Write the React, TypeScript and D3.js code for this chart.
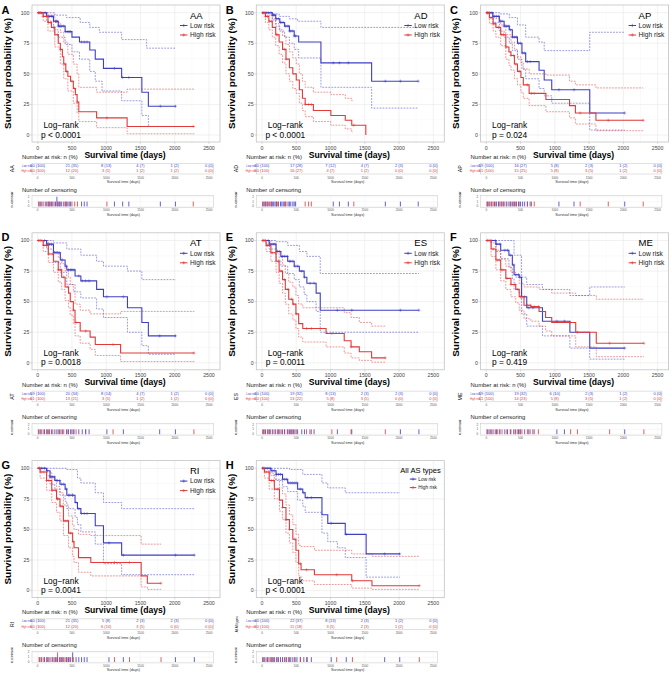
import React from 'react';
import * as d3 from 'd3';

type Pt = [number, number];

const TIME_TICKS = [0, 500, 1000, 1500, 2000, 2500];
const SURV_TICKS = [0, 25, 50, 75, 100];
const CENS_TICKS = [0, 1, 2];
const PANEL_LETTERS = ['A', 'B', 'C', 'D', 'E', 'F', 'G', 'H'];
const GROUP_NAMES = ['AA', 'AD', 'AP', 'AT', 'ES', 'ME', 'RI', 'All AS types'];
const P_TEXTS = ['p < 0.0001', 'p < 0.0001', 'p = 0.024', 'p = 0.0018', 'p = 0.0011', 'p = 0.419', 'p = 0.0041', 'p < 0.0001'];
const STRATA = ['Low risk', 'High risk'];

// ---- AA ----
const AA_low: Pt[] = [[0,100],[130,97],[230,93],[300,89],[400,84.5],[500,80],[610,76],[760,69.5],[840,62],[960,54.5],[1225,47],[1520,35],[1615,23.5],[2015,23.5]];
const AA_lowU: Pt[] = [[0,100],[250,98],[420,96],[620,92],[760,88],[900,84],[1225,78],[1590,71],[2015,71]];
const AA_lowL: Pt[] = [[0,100],[130,93],[230,86],[300,80],[400,74],[500,68],[610,62],[760,52],[840,44],[940,36],[1225,28],[1520,16],[1615,7],[2015,7]];
const AA_high: Pt[] = [[0,100],[80,97],[150,92],[200,88],[250,82],[300,75],[330,70],[360,64],[380,58],[410,52],[440,48],[480,44],[520,38],[550,33],[575,27],[600,19],[860,14],[1305,7],[2286,7]];
const AA_highU: Pt[] = [[0,100],[150,98],[250,92],[330,84],[380,76],[440,66],[520,58],[575,50],[600,39],[860,35],[1305,37.5],[2286,37.5]];
const AA_highL: Pt[] = [[0,100],[80,93],[150,85],[250,72],[330,58],[380,46],[440,36],[520,26],[575,18],[600,11],[860,6],[1305,1],[2286,1]];
const AA_lowC = [20,60,110,150,170,200,220,260,280,280,300,320,350,380,410,440,460,480,640,680,720,1120,1240,1330,1790,2010];
const AA_highC = [15,40,80,130,160,190,240,290,330,400,420,500,540,580,1010,2270];
const AA_riskLow = ['60 (100)','21 (35)','8 (13)','4 (7)','1 (2)','0 (0)'];
const AA_riskHigh = ['60 (100)','12 (20)','3 (5)','1 (2)','1 (2)','0 (0)'];

// ---- AD ----
const AD_low: Pt[] = [[0,100],[150,98],[200,95],[260,92],[330,89],[400,85],[470,81],[535,76],[860,59],[1600,44],[2280,44]];
const AD_lowU: Pt[] = [[0,100],[160,99],[250,97],[400,95],[520,93],[860,88],[2280,88]];
const AD_lowL: Pt[] = [[0,100],[150,94],[200,89],[260,85],[330,80],[400,75],[470,70],[535,63],[860,39],[1600,22],[2280,22]];
const AD_high: Pt[] = [[0,100],[50,97],[100,93],[150,88],[200,82],[250,76],[300,70],[350,62],[400,55],[450,50],[500,45],[545,37],[590,30],[630,25],[750,20],[1005,16],[1215,12],[1310,8],[1515,0]];
const AD_highU: Pt[] = [[0,100],[100,98],[150,95],[200,91],[250,86],[300,81],[350,74],[400,68],[450,63],[500,58],[545,50],[590,44],[630,39],[750,35],[1005,33],[1215,30],[1310,28],[1320,28]];
const AD_highL: Pt[] = [[0,100],[50,92],[100,86],[150,80],[200,73],[250,66],[300,59],[350,50],[400,44],[450,38],[500,34],[545,26],[590,20],[630,15],[750,11],[1005,8],[1215,5],[1310,2],[1320,2]];
const AD_lowC = [10,40,60,90,130,150,170,190,210,240,270,290,310,340,380,400,420,450,470,490,1040,1130,1260,1800,2020,2280];
const AD_highC = [20,50,80,110,140,210,230,330,350,630,680,720,1340];
const AD_riskLow = ['60 (100)','17 (28)','7 (12)','4 (7)','2 (3)','0 (0)'];
const AD_riskHigh = ['60 (100)','16 (27)','4 (7)','1 (2)','0 (0)','0 (0)'];

// ---- AP ----
const AP_low: Pt[] = [[0,100],[95,97],[190,93],[260,89],[335,86],[380,80],[455,75],[520,67],[575,60],[770,53],[845,45],[955,37],[1510,18],[2020,18]];
const AP_lowU: Pt[] = [[0,100],[190,99],[335,96],[455,90],[575,80],[770,76],[845,69],[1510,84],[2020,84]];
const AP_lowL: Pt[] = [[0,100],[95,92],[190,85],[260,80],[335,75],[380,69],[455,62],[520,54],[575,46],[770,38],[845,32],[955,26],[1510,4],[2020,4]];
const AP_high: Pt[] = [[0,100],[45,96],[100,91],[140,88],[210,82],[285,72],[330,68],[360,65],[410,58],[455,52],[505,47],[540,41],[625,34],[870,29],[1215,24],[1300,18],[1600,12],[2290,12]];
const AP_highU: Pt[] = [[0,100],[100,97],[140,95],[210,90],[285,82],[360,76],[410,70],[455,64],[505,59],[540,54],[625,50],[870,49],[1215,44],[1300,41],[1600,38.5],[2290,38.5]];
const AP_highL: Pt[] = [[0,100],[45,91],[100,85],[140,80],[210,73],[285,62],[330,57],[360,53],[410,46],[455,41],[505,35],[540,30],[625,24],[870,19],[1215,14],[1300,9],[1600,3.5],[2290,3.5]];
const AP_lowC = [15,50,80,120,150,180,200,230,260,300,330,350,380,410,440,470,500,530,560,600,640,1060,1280,2020];
const AP_highC = [10,30,70,100,130,180,220,250,290,360,400,430,480,600,660,700,1370,1780,2290];
const AP_riskLow = ['59 (100)','16 (27)','5 (8)','2 (3)','1 (2)','0 (0)'];
const AP_riskHigh = ['61 (100)','15 (25)','5 (8)','3 (5)','1 (2)','0 (0)'];

// ---- AT ----
const AT_low: Pt[] = [[0,100],[130,97],[230,90],[330,84],[400,79],[425,76],[545,71],[630,67],[860,60],[960,54],[1310,45],[1520,33],[1615,22],[2015,22]];
const AT_lowU: Pt[] = [[0,100],[230,98],[425,93],[630,88],[860,83],[960,79],[1310,75],[1520,68],[2015,68]];
const AT_lowL: Pt[] = [[0,100],[130,93],[230,82],[330,74],[425,64],[545,58],[630,53],[860,44],[960,37],[1310,25],[1520,14],[1615,7],[2015,7]];
const AT_high: Pt[] = [[0,100],[80,96],[155,89],[230,83],[300,76],[350,70],[400,62],[450,57],[475,50],[520,43],[545,33],[620,26],[765,21],[840,15],[1210,8],[2286,8]];
const AT_highU: Pt[] = [[0,100],[155,96],[230,91],[300,86],[350,81],[400,75],[450,70],[475,64],[520,58],[545,48],[620,43],[765,40],[1210,42],[2286,42]];
const AT_highL: Pt[] = [[0,100],[80,91],[155,82],[230,74],[300,66],[350,60],[400,51],[450,45],[475,39],[520,32],[545,22],[620,16],[765,11],[840,6],[1210,1],[2286,1]];
const AT_lowC = [20,60,100,140,170,200,250,280,320,360,420,450,480,500,530,600,650,700,750,1010,1250,1780,2010];
const AT_highC = [10,40,90,130,160,220,300,340,380,440,520,560,700,1100,2280];
const AT_riskLow = ['59 (100)','20 (34)','8 (14)','4 (7)','1 (2)','0 (0)'];
const AT_riskHigh = ['61 (100)','13 (21)','3 (5)','1 (2)','1 (2)','0 (0)'];

// ---- ES ----
const ES_low: Pt[] = [[0,100],[105,97],[205,91],[275,87],[375,83],[470,79],[545,75],[615,70],[655,65],[790,57],[850,43],[2290,43]];
const ES_lowU: Pt[] = [[0,100],[205,99],[375,96],[545,91],[655,87],[850,73],[2290,73]];
const ES_lowL: Pt[] = [[0,100],[105,93],[205,84],[275,79],[375,73],[470,68],[545,62],[615,56],[655,50],[790,42],[850,25],[2290,25]];
const ES_high: Pt[] = [[0,100],[60,96],[130,90],[205,83],[250,75],[300,68],[340,60],[390,52],[450,48],[495,40],[535,32],[595,28],[935,24],[1200,18],[1300,13],[1420,9],[1600,4],[1800,4]];
const ES_highU: Pt[] = [[0,100],[130,97],[205,92],[250,86],[300,80],[340,73],[390,66],[450,62],[495,55],[535,48],[595,45],[1200,41],[1300,37],[1420,33],[1600,30],[1800,30]];
const ES_highL: Pt[] = [[0,100],[60,91],[130,83],[205,74],[250,65],[300,57],[340,48],[390,40],[450,35],[495,28],[535,21],[595,17],[935,13],[1200,8],[1300,4],[1420,2],[1600,0.5],[1800,0.5]];
const ES_lowC = [20,50,90,120,160,190,230,260,300,330,370,400,420,450,480,520,580,620,700,760,1100,1310,2020,2290];
const ES_highC = [10,40,80,110,150,200,240,280,330,380,430,460,500,650,720,1020,1300,1800];
const ES_riskLow = ['60 (100)','19 (32)','8 (13)','2 (3)','2 (3)','0 (0)'];
const ES_riskHigh = ['60 (100)','13 (22)','5 (8)','3 (5)','0 (0)','0 (0)'];

// ---- ME ----
const ME_low: Pt[] = [[0,100],[140,97],[210,92],[330,88],[380,80],[405,72],[480,70],[515,54],[590,45],[820,34],[1220,25],[1510,12],[2020,12]];
const ME_lowU: Pt[] = [[0,100],[405,88],[515,70],[590,64],[820,60],[1220,55],[1510,62],[2020,62]];
const ME_lowL: Pt[] = [[0,100],[140,91],[210,85],[330,78],[380,69],[405,60],[480,57],[515,40],[590,30],[820,22],[1220,12],[1510,3],[2020,3]];
const ME_high: Pt[] = [[0,100],[70,93],[140,84],[210,76],[285,69],[360,64],[430,60],[480,54],[550,47],[650,46],[770,42],[865,37],[955,33],[1305,25],[1605,16],[2300,16]];
const ME_highU: Pt[] = [[0,100],[70,98],[140,92],[210,85],[285,79],[360,74],[430,70],[480,65],[550,62],[770,60],[955,57],[1305,55],[1605,52],[2300,52]];
const ME_highL: Pt[] = [[0,100],[70,87],[140,76],[210,67],[285,60],[360,54],[430,49],[480,43],[550,36],[650,34],[770,30],[865,26],[955,22],[1305,13],[1605,5],[2300,5]];
const ME_lowC = [10,40,80,130,150,200,270,310,350,400,430,470,490,560,620,680,1030,1140,2020];
const ME_highC = [20,60,100,160,190,230,300,360,420,460,500,520,600,640,700,760,1230,1330,1800,2300];
const ME_riskLow = ['59 (100)','19 (32)','6 (10)','2 (3)','1 (2)','0 (0)'];
const ME_riskHigh = ['61 (100)','14 (23)','5 (8)','3 (5)','1 (2)','0 (0)'];

// ---- RI ----
const RI_low: Pt[] = [[0,100],[130,98],[180,93],[250,90],[325,87],[400,83],[425,78],[545,72],[580,67],[630,63],[840,53],[960,39],[1225,29],[2286,29]];
const RI_lowU: Pt[] = [[0,100],[425,99],[580,92],[630,88],[840,80],[960,72],[1225,67],[2286,67]];
const RI_lowL: Pt[] = [[0,100],[130,94],[180,87],[250,83],[325,78],[400,73],[425,67],[545,60],[580,54],[630,48],[840,38],[960,22],[1225,13],[2286,13]];
const RI_high: Pt[] = [[0,100],[35,97],[130,90],[205,82],[275,75],[325,69],[375,57],[450,47],[510,40],[530,35],[595,27],[775,23],[1510,12],[1600,6],[1800,6]];
const RI_highU: Pt[] = [[0,100],[130,97],[205,91],[275,85],[325,80],[375,70],[450,61],[510,54],[530,50],[595,46],[775,45],[1510,38],[1800,38]];
const RI_highL: Pt[] = [[0,100],[35,92],[130,82],[205,72],[275,64],[325,57],[375,45],[450,35],[510,28],[530,23],[595,15],[775,12],[1510,3],[1600,1],[1800,1]];
const RI_lowC = [30,60,100,140,180,210,240,270,290,320,350,380,420,450,470,510,510,560,600,640,680,720,1040,1250,2010,2286];
const RI_highC = [20,50,90,130,160,220,260,290,290,330,360,400,440,480,520,1120,1340,1800];
const RI_riskLow = ['60 (100)','21 (35)','5 (8)','2 (3)','2 (3)','0 (0)'];
const RI_riskHigh = ['60 (100)','12 (20)','6 (10)','3 (5)','0 (0)','0 (0)'];

// ---- All AS types ----
const ALL_low: Pt[] = [[0,100],[130,98],[205,95],[300,91],[375,88],[520,83],[595,80],[630,76],[875,62],[960,55],[1215,46],[1520,30],[2015,30]];
const ALL_lowU: Pt[] = [[0,100],[400,99],[595,95],[875,88],[960,84],[1215,80],[2015,80]];
const ALL_lowL: Pt[] = [[0,100],[130,94],[205,90],[300,85],[375,81],[520,74],[595,69],[630,64],[875,47],[960,40],[1100,35],[1215,27],[1520,11],[2015,11]];
const ALL_high: Pt[] = [[0,100],[35,97],[105,90],[180,83],[255,74],[300,68],[350,58],[400,50],[450,42],[495,33],[535,22],[570,17],[765,13],[1310,8],[1605,4],[2296,4]];
const ALL_highU: Pt[] = [[0,100],[105,96],[180,91],[255,84],[300,79],[350,70],[400,62],[450,54],[495,46],[535,37],[570,36],[765,33],[1310,30],[1605,28],[2296,28]];
const ALL_highL: Pt[] = [[0,100],[35,92],[105,83],[180,75],[255,65],[300,58],[350,47],[400,39],[450,31],[495,23],[535,12],[570,8],[765,5],[1310,2],[1605,1],[2296,1]];
const ALL_lowC = [10,40,80,120,150,180,210,240,270,300,330,360,390,420,450,480,510,560,610,660,720,1010,1230,1790,2010];
const ALL_highC = [20,60,100,140,170,230,300,350,400,480,560,650,1090,1320,2296];
const ALL_riskLow = ['60 (100)','22 (37)','8 (13)','2 (3)','1 (2)','0 (0)'];
const ALL_riskHigh = ['60 (100)','11 (18)','3 (5)','2 (3)','1 (2)','0 (0)'];

const CURVES = [
  [AA_low, AA_lowU, AA_lowL, AA_high, AA_highU, AA_highL],
  [AD_low, AD_lowU, AD_lowL, AD_high, AD_highU, AD_highL],
  [AP_low, AP_lowU, AP_lowL, AP_high, AP_highU, AP_highL],
  [AT_low, AT_lowU, AT_lowL, AT_high, AT_highU, AT_highL],
  [ES_low, ES_lowU, ES_lowL, ES_high, ES_highU, ES_highL],
  [ME_low, ME_lowU, ME_lowL, ME_high, ME_highU, ME_highL],
  [RI_low, RI_lowU, RI_lowL, RI_high, RI_highU, RI_highL],
  [ALL_low, ALL_lowU, ALL_lowL, ALL_high, ALL_highU, ALL_highL],
];
const CENSORS = [
  [AA_lowC, AA_highC], [AD_lowC, AD_highC], [AP_lowC, AP_highC], [AT_lowC, AT_highC],
  [ES_lowC, ES_highC], [ME_lowC, ME_highC], [RI_lowC, RI_highC], [ALL_lowC, ALL_highC],
];
const RISKS = [
  [AA_riskLow, AA_riskHigh], [AD_riskLow, AD_riskHigh], [AP_riskLow, AP_riskHigh], [AT_riskLow, AT_riskHigh],
  [ES_riskLow, ES_riskHigh], [ME_riskLow, ME_riskHigh], [RI_riskLow, RI_riskHigh], [ALL_riskLow, ALL_riskHigh],
];

const COLORS = ['#3f3fc6', '#e03a3a'];
const FONT = 'Liberation Sans, Arial, Helvetica, sans-serif';
const OX = [0, 224.3, 448.6];
const OY = [0, 227.8, 455.6];

function survAt(c: Pt[], t: number): number | null {
  if (t > c[c.length - 1][0]) return null;
  let v = c[0][1];
  for (const p of c) { if (p[0] <= t) v = p[1]; else break; }
  return v;
}

function Panel({ idx }: { idx: number }) {
  const ox = OX[idx % 3];
  const oy = OY[Math.floor(idx / 3)];
  const x = d3.scaleLinear().domain([0, 2500]).range([37.7, 209]);
  const y = d3.scaleLinear().domain([0, 100]).range([135, 12.7]);
  const yc = d3.scaleLinear().domain([0, 2]).range([206.4, 196.8]);
  const line = d3.line<Pt>().x(p => x(p[0])).y(p => y(p[1])).curve(d3.curveStepAfter);
  const curves = CURVES[idx];
  const cens = CENSORS[idx];
  const risks = RISKS[idx];
  const name = GROUP_NAMES[idx];
  const small = name.length > 4;
  const minorX = d3.range(250, 2500, 500);
  const minorY = [12.5, 37.5, 62.5, 87.5];
  const plus = 'M-1.6,0h3.2M0,-1.6v3.2';
  const leg = small
    ? { tx: 176, ty: 17.5, tf: 7.6, r1: 23.5, r2: 32, k0: 185.5, k1: 192, lx: 194, lf: 4.8 }
    : { tx: 190, ty: 18.5, tf: 9.5, r1: 25.5, r2: 35, k0: 180, k1: 187.5, lx: 190, lf: 6.6 };
  return (
    <g transform={`translate(${ox},${oy})`} fontFamily={FONT}>
      <text x={1.5} y={13.5} fontSize={11} fontWeight="bold">{PANEL_LETTERS[idx]}</text>
      {/* main panel */}
      <rect x={32} y={5} width={188} height={137} fill="#fff" />
      {minorX.map(t => <line key={'mx' + t} x1={x(t)} x2={x(t)} y1={5} y2={142} stroke="#f4f4f4" strokeWidth={0.5} />)}
      {minorY.map(t => <line key={'my' + t} y1={y(t)} y2={y(t)} x1={32} x2={220} stroke="#f4f4f4" strokeWidth={0.5} />)}
      {TIME_TICKS.map(t => <line key={'gx' + t} x1={x(t)} x2={x(t)} y1={5} y2={142} stroke="#e8e8e8" strokeWidth={0.6} />)}
      {SURV_TICKS.map(t => <line key={'gy' + t} y1={y(t)} y2={y(t)} x1={32} x2={220} stroke="#e8e8e8" strokeWidth={0.6} />)}
      <rect x={32} y={5} width={188} height={137} fill="none" stroke="#c4c4c4" strokeWidth={0.8} />
      {TIME_TICKS.map(t => (
        <g key={'tx' + t}>
          <line x1={x(t)} x2={x(t)} y1={142} y2={144} stroke="#bbb" strokeWidth={0.5} />
          <text x={x(t)} y={149.5} fontSize={5.2} fill="#444" textAnchor="middle">{t}</text>
        </g>
      ))}
      {SURV_TICKS.map(t => (
        <g key={'ty' + t}>
          <line x1={30} x2={32} y1={y(t)} y2={y(t)} stroke="#bbb" strokeWidth={0.5} />
          <text x={29.3} y={y(t) + 1.8} fontSize={5.2} fill="#444" textAnchor="end">{t}</text>
        </g>
      ))}
      <text transform="translate(10.5,73.5) rotate(-90)" fontSize={9} fontWeight="bold" textAnchor="middle"
        textLength={111} lengthAdjust="spacingAndGlyphs">Survival probability (%)</text>
      <text x={125} y={157.5} fontSize={8.6} fontWeight="bold" textAnchor="middle">Survival time (days)</text>
      {/* curves */}
      {[0, 1].map(g => (
        <g key={'cv' + g}>
          <path d={line(curves[g * 3 + 1]) || ''} fill="none" stroke={COLORS[g]} strokeWidth={0.7} strokeDasharray="1.8,1.2" opacity={0.75} />
          <path d={line(curves[g * 3 + 2]) || ''} fill="none" stroke={COLORS[g]} strokeWidth={0.7} strokeDasharray="1.8,1.2" opacity={0.75} />
        </g>
      ))}
      {[0, 1].map(g => (
        <g key={'cs' + g}>
          <path d={line(curves[g * 3]) || ''} fill="none" stroke={COLORS[g]} strokeWidth={1.1} />
          {cens[g].map((t, i) => {
            const v = survAt(curves[g * 3], t);
            if (v === null) return null;
            return <path key={i} d={plus} transform={`translate(${x(t)},${y(v)})`} stroke={COLORS[g]} strokeWidth={0.55} opacity={0.8} />;
          })}
        </g>
      ))}
      {/* log-rank */}
      <text x={61} y={128} fontSize={8.4} textAnchor="middle">Log−rank</text>
      <text x={61} y={137.5} fontSize={8.4} textAnchor="middle">{P_TEXTS[idx]}</text>
      {/* legend */}
      <text x={leg.tx} y={leg.ty} fontSize={leg.tf}>{name}</text>
      {[0, 1].map(g => {
        const ry = g === 0 ? leg.r1 : leg.r2;
        return (
          <g key={'lg' + g}>
            <line x1={leg.k0} x2={leg.k1} y1={ry} y2={ry} stroke={COLORS[g]} strokeWidth={1} />
            <path d={plus} transform={`translate(${(leg.k0 + leg.k1) / 2},${ry})`} stroke={COLORS[g]} strokeWidth={0.6} />
            <text x={leg.lx} y={ry + leg.lf * 0.35} fontSize={leg.lf} fill="#222">{STRATA[g]}</text>
          </g>
        );
      })}
      {/* risk table */}
      <text x={22} y={158.8} fontSize={5.9} fill="#222">Number at risk: n (%)</text>
      <rect x={32} y={163.3} width={181.3} height={10.7} fill="#fff" stroke="#c4c4c4" strokeWidth={0.5} />
      {TIME_TICKS.map(t => <line key={'rg' + t} x1={x(t)} x2={x(t)} y1={163.3} y2={174} stroke="#eee" strokeWidth={0.4} />)}
      <text transform="translate(13.5,168.7) rotate(-90)" fontSize={small ? 3 : 5.2} textAnchor="middle">{name}</text>
      {[0, 1].map(g => {
        const ry = g === 0 ? 166.8 : 172.2;
        return (
          <g key={'rk' + g}>
            <text x={31.5} y={ry} fontSize={2.6} fill={COLORS[g]} textAnchor="end">{STRATA[g]}</text>
            {risks[g].map((s, i) => (
              <text key={i} x={x(TIME_TICKS[i])} y={ry} fontSize={4} fill={COLORS[g]} textAnchor="middle">{s}</text>
            ))}
          </g>
        );
      })}
      {TIME_TICKS.map(t => <text key={'rt' + t} x={x(t)} y={178.6} fontSize={3} fill="#555" textAnchor="middle">{t}</text>)}
      <text x={x(1250)} y={183.2} fontSize={3.8} fill="#333" textAnchor="middle">Survival time (days)</text>
      {/* censor plot */}
      <text x={22} y={191.5} fontSize={5.9} fill="#222">Number of censoring</text>
      <rect x={32} y={195.7} width={181.3} height={11.6} fill="#fff" stroke="#c4c4c4" strokeWidth={0.5} />
      {TIME_TICKS.map(t => <line key={'cg' + t} x1={x(t)} x2={x(t)} y1={195.7} y2={207.3} stroke="#eee" strokeWidth={0.4} />)}
      {CENS_TICKS.map(t => (
        <g key={'ct' + t}>
          <line y1={yc(t)} y2={yc(t)} x1={32} x2={213.3} stroke="#eee" strokeWidth={0.4} />
          <text x={29.5} y={yc(t) + 1} fontSize={3} fill="#555" textAnchor="end">{t}</text>
        </g>
      ))}
      <text transform="translate(12.5,199.5) rotate(-90)" fontSize={4.2} textAnchor="middle">n.censor</text>
      {[0, 1].map(g => {
        const counts = d3.rollups(cens[g], v => v.length, t => t);
        return (
          <g key={'cb' + g}>
            {counts.map(([t, n]) => (
              <line key={t} x1={x(t)} x2={x(t)} y1={yc(0)} y2={yc(n)} stroke={COLORS[g]} strokeWidth={0.9} opacity={0.9} />
            ))}
          </g>
        );
      })}
      {TIME_TICKS.map(t => <text key={'cx' + t} x={x(t)} y={211.2} fontSize={3} fill="#555" textAnchor="middle">{t}</text>)}
      <text x={x(1250)} y={215.8} fontSize={3.8} fill="#333" textAnchor="middle">Survival time (days)</text>
    </g>
  );
}

export default function App() {
  return (
    <svg width={669} height={674} style={{ position: 'absolute', left: 0, top: 0, background: '#fff' }}>
      <rect width={669} height={674} fill="#fff" />
      {PANEL_LETTERS.map((_, i) => <Panel key={i} idx={i} />)}
    </svg>
  );
}
